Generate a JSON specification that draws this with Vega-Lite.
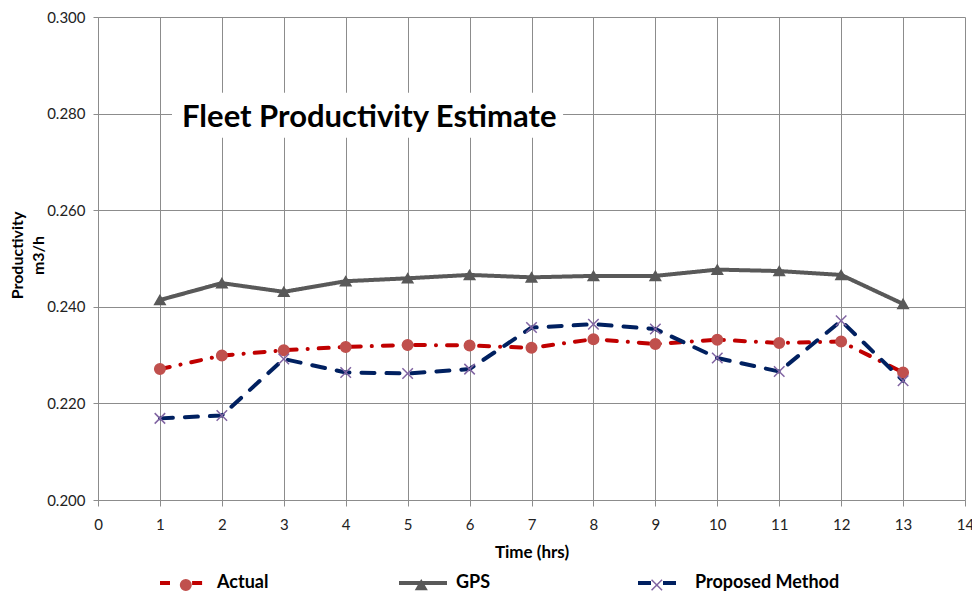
{
  "$schema": "https://vega.github.io/schema/vega-lite/v6.json",
  "width": 867,
  "height": 483,
  "autosize": {"type": "none"},
  "padding": {"left": 98, "top": 17, "right": 7, "bottom": 92},
  "background": "white",
  "config": {
    "font": "Lato",
    "view": {"stroke": null},
    "axis": {
      "gridColor": "#8c8c8c",
      "gridWidth": 1,
      "domainColor": "#8c8c8c",
      "tickColor": "#8c8c8c",
      "labelColor": "#222222",
      "labelFontSize": 15,
      "titleColor": "#000000",
      "titleFontSize": 16,
      "titleFontWeight": "bold"
    }
  },
  "data": {
    "values": [
      {"time": 1, "series": "Actual", "value": 0.2271},
      {"time": 2, "series": "Actual", "value": 0.2299},
      {"time": 3, "series": "Actual", "value": 0.2310},
      {"time": 4, "series": "Actual", "value": 0.2317},
      {"time": 5, "series": "Actual", "value": 0.2321},
      {"time": 6, "series": "Actual", "value": 0.2320},
      {"time": 7, "series": "Actual", "value": 0.2315},
      {"time": 8, "series": "Actual", "value": 0.2333},
      {"time": 9, "series": "Actual", "value": 0.2323},
      {"time": 10, "series": "Actual", "value": 0.2332},
      {"time": 11, "series": "Actual", "value": 0.2325},
      {"time": 12, "series": "Actual", "value": 0.2328},
      {"time": 13, "series": "Actual", "value": 0.2264},
      {"time": 1, "series": "GPS", "value": 0.2414},
      {"time": 2, "series": "GPS", "value": 0.2449},
      {"time": 3, "series": "GPS", "value": 0.2431},
      {"time": 4, "series": "GPS", "value": 0.2453},
      {"time": 5, "series": "GPS", "value": 0.2459},
      {"time": 6, "series": "GPS", "value": 0.2466},
      {"time": 7, "series": "GPS", "value": 0.2461},
      {"time": 8, "series": "GPS", "value": 0.2464},
      {"time": 9, "series": "GPS", "value": 0.2464},
      {"time": 10, "series": "GPS", "value": 0.2477},
      {"time": 11, "series": "GPS", "value": 0.2474},
      {"time": 12, "series": "GPS", "value": 0.2466},
      {"time": 13, "series": "GPS", "value": 0.2406},
      {"time": 1, "series": "Proposed Method", "value": 0.2169},
      {"time": 2, "series": "Proposed Method", "value": 0.2175},
      {"time": 3, "series": "Proposed Method", "value": 0.2292},
      {"time": 4, "series": "Proposed Method", "value": 0.2264},
      {"time": 5, "series": "Proposed Method", "value": 0.2262},
      {"time": 6, "series": "Proposed Method", "value": 0.2271},
      {"time": 7, "series": "Proposed Method", "value": 0.2357},
      {"time": 8, "series": "Proposed Method", "value": 0.2364},
      {"time": 9, "series": "Proposed Method", "value": 0.2354},
      {"time": 10, "series": "Proposed Method", "value": 0.2294},
      {"time": 11, "series": "Proposed Method", "value": 0.2266},
      {"time": 12, "series": "Proposed Method", "value": 0.2371},
      {"time": 13, "series": "Proposed Method", "value": 0.2247}
    ]
  },
  "layer": [
    {
      "mark": {"type": "line", "strokeWidth": 4, "strokeCap": "round"},
      "encoding": {
        "x": {
          "field": "time",
          "type": "quantitative",
          "scale": {"domain": [0, 14], "nice": false},
          "axis": {
            "values": [0, 1, 2, 3, 4, 5, 6, 7, 8, 9, 10, 11, 12, 13, 14],
            "format": "d",
            "title": "Time (hrs)",
            "titleFontSize": 17,
            "labelFlush": false,
            "tickSize": 6,
            "labelPadding": 11,
            "titlePadding": 12
          }
        },
        "y": {
          "field": "value",
          "type": "quantitative",
          "scale": {"domain": [0.2, 0.3], "nice": false, "zero": false},
          "axis": {
            "values": [0.2, 0.22, 0.24, 0.26, 0.28, 0.3],
            "format": ".3f",
            "title": ["Productivity", "m3/h"],
            "tickSize": 5,
            "labelPadding": 8,
            "titleX": -89,
            "titleY": 238,
            "titleAngle": -90,
            "titleAlign": "center",
            "titleBaseline": "top",
            "titleLineHeight": 21
          }
        },
        "color": {
          "field": "series",
          "type": "nominal",
          "scale": {"range": ["#C00000", "#595959", "#002060"]},
          "legend": {
            "orient": "none",
            "legendX": 60,
            "legendY": 540,
            "direction": "horizontal",
            "columns": 3,
            "gridAlign": "all",
            "title": null,
            "symbolType": "stroke",
            "symbolSize": 2304,
            "symbolStrokeWidth": 4,
            "labelOffset": 7,
            "columnPadding": 29,
            "labelFontSize": 18,
            "labelFontWeight": "bold",
            "labelColor": "#000000"
          }
        },
        "strokeDash": {
          "field": "series",
          "type": "nominal",
          "scale": {"range": [[10, 11, 0.1, 11], [1, 0], [13, 12]]}
        }
      }
    },
    {
      "mark": {"type": "point", "filled": true, "strokeWidth": 1.5, "opacity": 1, "size": 110},
      "encoding": {
        "x": {"field": "time", "type": "quantitative"},
        "y": {"field": "value", "type": "quantitative"},
        "shape": {
          "field": "series",
          "type": "nominal",
          "scale": {"domain": ["Actual", "GPS", "Proposed Method"], "range": ["circle", "triangle-up", "M-1,-1L1,1M1,-1L-1,1"]},
          "legend": {
            "orient": "none",
            "legendX": 78.8,
            "legendY": 559,
            "direction": "horizontal",
            "columns": 3,
            "gridAlign": "all",
            "title": null,
            "symbolSize": 110,
            "symbolStrokeWidth": 1.5,
            "labelOffset": 0,
            "labelExpr": "''",
            "columnPadding": 217.5,
            "labelFontSize": 18
          }
        },
        "fill": {
          "field": "series",
          "type": "nominal",
          "scale": {"domain": ["Actual", "GPS", "Proposed Method"], "range": ["#C0504D", "#595959", "transparent"]}
        },
        "stroke": {
          "field": "series",
          "type": "nominal",
          "scale": {"domain": ["Actual", "GPS", "Proposed Method"], "range": ["#C0504D", "#595959", "#8064A2"]}
        }
      }
    },
    {
      "data": {"values": [{}]},
      "mark": {"type": "rect", "color": "white"},
      "encoding": {
        "x": {"datum": 1.195, "type": "quantitative"},
        "x2": {"datum": 7.51},
        "y": {"datum": 0.2750, "type": "quantitative"},
        "y2": {"datum": 0.2843}
      }
    },
    {
      "data": {"values": [{}]},
      "mark": {"type": "text", "text": "Fleet Productivity Estimate", "fontSize": 31, "fontWeight": "bold", "color": "#000000", "align": "center", "baseline": "alphabetic"},
      "encoding": {
        "x": {"datum": 4.38, "type": "quantitative"},
        "y": {"datum": 0.2772, "type": "quantitative"}
      }
    }
  ]
}
